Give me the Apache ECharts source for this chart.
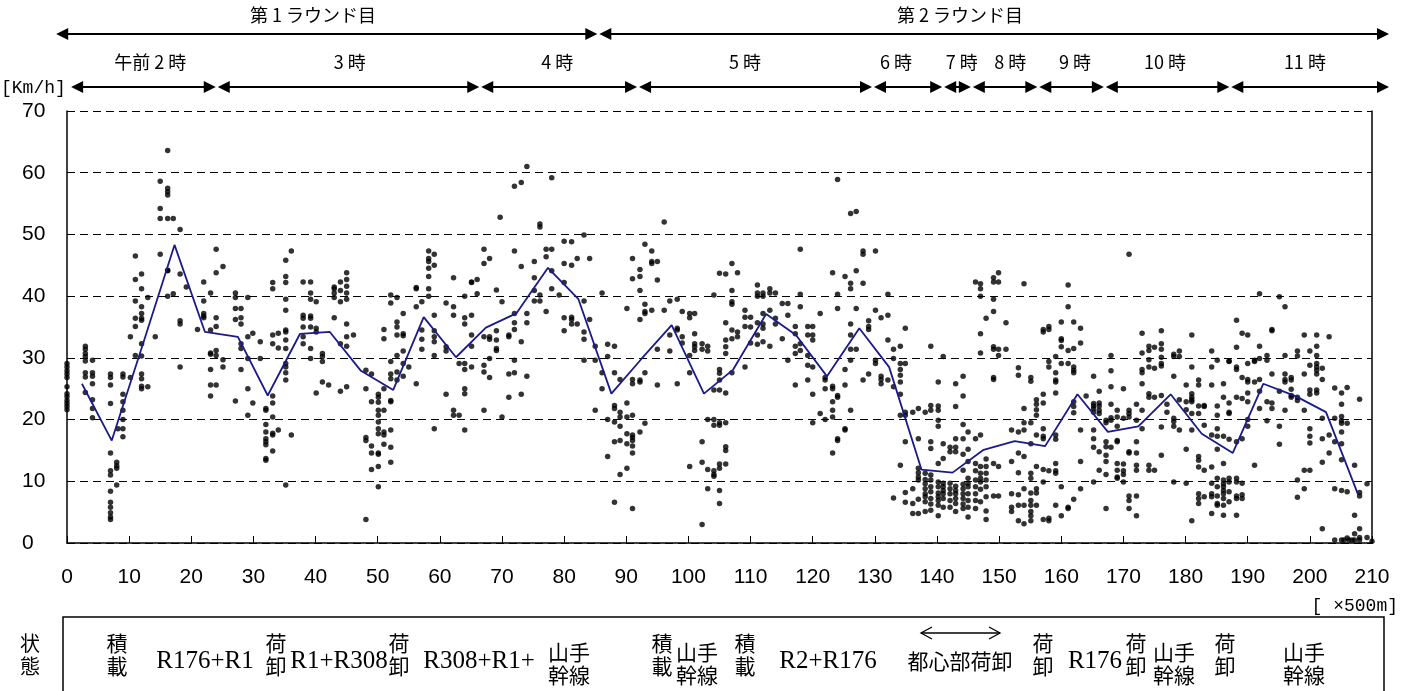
<!DOCTYPE html>
<html><head><meta charset="utf-8">
<script src="https://cdn.jsdelivr.net/npm/echarts@6/dist/echarts.min.js"></script>
<style>html,body{margin:0;padding:0;background:#fff}#c{width:1407px;height:691px}</style>
</head><body><div id="c"></div>
<script>
// x positions (×500m) of the speed sample columns, and the speeds (km/h) in each column
const speedX = [0,2.95,4.1,7,8,8.2,9,10.2,11,12,13,14.2,15,16.2,17.1,18.2,19.2,21,22,23.1,24,25.1,27.1,28,29.1,29.9,31.1,32,33.1,34,
35.2,36.1,38,39.2,40.1,41.1,42.1,43,44,45,46.1,48.1,49,50.1,51,52.1,53.1,54.1,55,56.2,57.1,58.2,59.1,61,62.2,63.1,64,65.1,66,67.1,68,69.1,69.7,
70,71.1,72,73.1,74,75.2,76.1,77.1,78,79.2,80,81.2,82.1,83.2,84.1,85,86.1,87,88.1,89,90.1,91,92.2,93,94.1,95,96.1,97,98.2,99,100.2,101,102.2,103.1,104.1,
105,106,107,107.9,109.1,110,111.1,112,113.1,114,115.1,116,117.2,118,119.2,120,121.2,122,123.2,124,125.2,126.1,127,128.1,129,130.1,131,132.1,133,134.1,134.9,136.1,137,138.1,139,
140.2,141,142.1,143,144.2,145,146.2,147,147.9,149.1,149.9,151.1,152,153.1,154,155.1,156,157.1,158,159.1,160,161.1,162,163.1,164,165.2,166.1,167.2,168,169,170,170.9,172.1,173,174.1,
175,176.1,177,178.1,179,180.1,181,182.1,183,184.2,185.1,186.1,187,188.2,189.1,190,191.1,191.9,193.1,193.9,195.1,196,197,198,199.1,200,201.1,202,203.1,204,205.1,205.5,206,206.3,206.8,207.2,208,209.2,210];
const speedY = [
[29.1,28.5,27.9,27.4,26.8,25.3,24.2,23.7,23.1,22.6,22.1,21.6],[31.9,31.4,30.7,30.2,29.5,27.6,26.9,24.4],[29.6,27.6,27.0,25.8,23.2,21.8,20.3],
[27.4,26.8,25.6,22.6,14.6,11.7,11.0,8.4,6.6,5.8,4.9,4.2,3.8],[13.1,12.5,12.1,9.4],[18.5],[27.4,26.9,24.1,22.9,21.5,20.0,18.5,17.2],[33.4,26.8],
[46.5,42.7,39.2,36.4,35.1,30.4],[43.6,41.2,38.3,37.2,36.4,36.1,32.3,30.3,27.4,26.6,25.4,25.0],[39.8,25.3],[33.4],[58.6,54.2,52.6,46.8],
[63.6,57.5,56.9,56.4,52.6,44.2,44.1,40.0],[52.6,40.4],[50.8,43.6,36.0,35.5,28.5],[41.5],[34.6],[42.3,39.2,37.2,36.8,36.5],
[40.5,34.5,30.8,30.6,28.1,25.6,23.8],[47.6,43.8,36.5,35.1,31.2,30.4,25.6],[44.8,29.7,28.5],[40.5,39.8,38.0,36.2,23.0],[38.0,36.5,35.5,32.3,31.5,28.1],
[39.8,33.4,29.9,25.0,20.7],[34.0,22.7],[32.6,29.9],[21.8,21.5,19.2,18.0,16.9,16.4,15.9,13.7,13.4],[42.2,41.2,33.7,32.3,23.8,22.7,20.4,17.8,17.5,14.9],[34.0,31.6,18.3],
[45.8,43.2,42.2,39.5,37.7,34.5,34.2,32.9,31.5,29.1,28.5,27.6,26.4,9.4],[47.3,17.5],[42.3,36.9,36.4,35.0,33.4,32.3],[42.3,40.5,39.5,36.8,36.4,35.0,31.5,29.9],
[39.1,34.8,34.2,24.3],[30.7,30.2,29.4,26.1],[25.6],[41.5,41.2,40.5,39.8,36.5],[42.3,40.9,39.1,32.3,24.6],[43.8,42.7,41.6,40.5,39.5,35.5,33.4,31.9,25.3],[33.7],
[28.0,25.0,17.1,16.6,3.8],[27.4,22.9,15.7,14.6,11.9],[24.1,23.6,22.8,21.5,20.7,19.6,18.5,17.7,14.6,14.4,12.4,9.1],[34.6,33.1,25.0,21.5,18.0,17.5,16.0],
[40.2,38.9,29.4,27.4,26.6,23.1,22.9,18.3,15.5,13.1],[39.8,35.8,35.0,33.7,30.4,27.7,26.4],[37.2,33.9,33.6,31.1,29.1,27.0],[28.5],[41.4,41.2,38.3,25.8],
[39.1,34.5,33.0,31.4],[47.3,46.1,45.6,44.5,43.2,41.2,40.0],[46.8,45.0,36.9,34.4,33.4,32.6,30.4,18.5],[38.9,31.8,31.1,24.1],[43.0,38.3,36.9,21.5,20.7],[29.1,20.7],
[40.0,36.5,35.5,29.1,28.1,25.0,24.2,18.3],[42.3,42.2,36.9,33.7,31.9,28.5],[42.7,40.4],[47.6,45.3,33.4,28.8,27.7,21.5],[46.1,33.4,33.0,29.9,26.8],[41.0,34.4,32.9,31.5,31.2],[52.8],
[39.1,20.4],[33.7,33.4,27.4,23.6],[57.8,47.3,37.2,35.7,34.6,29.6,27.6],[58.4,44.8,32.6,24.1],[61.0,37.2,35.7,27.0],[45.6,43.0,40.9,39.2],[51.7,51.2,40.2,39.2],
[47.6,46.4,37.5],[59.2,47.6,44.1,41.2],[40.2],[48.9,45.3,42.2,36.5,34.4],[48.8,45.0,36.6,36.2,35.5],[46.1,35.5],[49.9,39.2,34.2,33.0,29.6],[46.1,36.2],
[31.9,29.6,21.5],[40.5,27.6,25.0],[32.2,30.2,20.0,14.0],[31.9,27.6,22.3,21.8,19.6,16.4,6.6],[26.5,21.2,20.4,18.9,16.6,11.1],[38.0,22.7,20.4,17.7,16.1,12.1],
[46.1,42.8,26.5,25.8,20.7,17.5,17.1,16.6,15.7,14.6,5.6],[44.3,43.2,40.9,36.2,26.4,26.1,18.0],[48.4,38.7,37.5,37.2,27.6,19.4],[47.3,45.6,45.3,37.7],
[45.6,42.6,31.4,25.6],[52.0,37.7],[39.2,33.7,31.1],[39.5,34.8,34.5,25.8],[37.5,33.4,32.4],[37.2,36.5,30.4,27.6,12.4],[37.2,33.9,32.3,31.8,31.2],
[32.3,31.4,16.4,13.1,3.0],[31.9,31.1,20.0,11.9,8.8],[40.2,24.8,20.0,19.1,11.7,11.1,10.8],
[43.7,28.1,27.5,26.4,24.8,19.5,19.1,12.8,12.1,8.5,6.4],[43.6,35.7,32.9,31.8,30.7,24.3,19.5,15.6,15.0,12.8],[45.3,40.9,39.1,38.7,34.5,33.1,27.6],[43.8,34.2,33.4],
[37.7,36.6,35.1,28.5],[36.6,35.0,32.4],[41.8,40.5,40.0,35.7,33.7,32.2],[40.5,40.0,37.2,35.5,34.8,32.6],[41.2,40.5,37.7,31.9],[40.5,36.4,35.5],[38.8,33.1],
[38.8,36.9,29.6],[35.1,33.9,31.9,30.7,25.6],[47.6,40.3,38.3,32.3,31.2],[35.1,33.7,30.4,28.8,26.4],[35.1,33.7,32.9,28.5,24.1,19.5],[37.2,21.0],[26.8,26.4,25.0,20.0],
[43.8,25.4,25.0,22.9,21.5,20.4,14.6],[58.9,40.3,38.0,23.9,23.6,16.9,16.6],[43.2,28.1,25.6,18.5,18.3],[53.4,42.1,41.2,35.5,33.7,31.4,29.6,21.5],[53.7,44.1,38.0,31.4],
[47.3,46.8,42.1,26.4],[36.0,35.1,34.6,27.4],[47.3,37.7,29.6,29.1],[36.5,27.0,26.5,25.8],[40.3,36.9,32.9,26.4],[31.4,29.9,25.3,7.3],
[31.9,29.1,28.1,27.2,26.1,24.1,20.7,12.6],[34.8,29.1,21.2,20.7,16.4,8.2,6.6],[21.2,8.8,6.4,4.8],[21.8,16.9,12.1,11.4,10.7,10.2,7.1,4.8],
[21.2,11.3,10.3,9.6,8.8,8.0,7.5,6.7,5.1],[31.9,22.3,21.5,16.4,15.3,11.0,10.2,9.1,8.3,7.2,6.3,5.3],
[26.1,22.2,21.5,19.9,18.9,12.9,9.9,9.1,8.1,7.5,6.9,6.1,4.4],[30.2,16.1,13.7,9.7,9.1,8.5,8.0,7.2,5.8],[15.5,14.8,9.7,8.8,8.0,6.9,5.8],
[25.8,22.1,16.9,15.5,14.8,9.2,8.5,8.0,7.2,6.4,5.1],[27.0,23.8,19.2,16.9,14.4,11.8,9.5,8.8,8.0,7.2,6.3,5.6],[18.0,15.2,13.2,10.5,9.7,9.1,8.0,6.9,5.8,4.2],
[42.3,16.9,12.9,11.7,10.2,9.1,8.0,6.9,5.6],[42.0,41.2,40.0,33.9,30.8,17.5,12.4,11.3,10.5,9.9,8.7,6.7],[36.4,13.6,12.4,11.3,10.2,9.1,7.5,5.2,3.8],
[43.0,42.3,39.5,37.5,31.8,31.4,26.8,26.5,12.9,7.6],[43.8,42.3,31.4,30.4,12.4,7.6],[35.7,31.4],[18.3,13.2,8.0,5.8,5.1],[28.4,27.2,18.0,14.6,11.4,7.8,6.1,3.6],
[42.0,21.8,19.5,18.3,14.0,8.8,6.1,3.1],[26.8,26.2,19.5,16.1,11.3,10.5,8.1,6.9,6.1,5.1,4.4,3.6],[23.2,22.5,21.6,20.7,17.5,12.4,8.8,8.1,6.1],
[34.6,34.2,24.1,22.7,18.5,17.3,16.9,11.9,9.9,3.8],[35.1,34.6,29.4,28.5,11.7,4.0,3.6],[30.2,27.6,26.4,26.1,24.3,17.5,16.8,12.9,11.7,11.3,6.1],
[35.8,33.1,32.8,31.8,29.1,9.1,4.4],[41.8,38.3,31.2,29.1,5.8,5.6],[35.8,31.5,28.5,28.0,27.6,22.9,22.1,21.1,7.1],[34.8,32.4,18.3,13.2,8.8],[23.8],
[27.0,22.6,22.2,21.8,21.2,18.3,16.9,15.5,9.9],[24.6,22.7,22.2,21.5,21.0,14.8,11.8],[19.9,19.5,16.4,15.6,14.2,13.2,11.1,5.6],[30.4,27.9,25.3,22.5,20.3,19.9,15.5],
[21.5,20.4,18.9,16.6,16.4,12.9,11.8,10.7,10.5],[25.0,20.2,12.8,11.7,11.1,9.9],[46.8,21.5,21.0,20.4,14.8,14.6,7.6,6.9,5.6],[22.5,19.9,16.4,14.6,12.6,11.8,7.6,4.4],
[34.0,30.8,28.1,27.6,25.8,21.5,18.5],[31.9,31.2,29.7,28.5,24.2,23.6,12.6,11.8],
[31.7,28.3,23.6,11.8],[34.4,32.3,31.4,30.1,29.1,28.7,23.9,18.8,14.2],[22.5,21.2],[30.6,30.2,27.0,20.2,19.7,18.9,9.9],[31.1,30.2,23.2,18.3],[25.6,22.9,21.6,15.2,9.7],
[33.7,28.5,24.2,23.6,23.2,22.9,21.0,18.3,3.6],[26.4,25.6,22.2,21.0,14.0,13.4,12.3,8.0,7.2,6.4],[22.3,22.1,19.1,11.8,7.5],[31.1,28.5,25.6,17.5,12.3,9.7,8.0,7.5,4.8],
[29.6,22.2,20.7,18.5,17.3,15.2,10.5,9.1,7.6,6.4,6.1],[25.8,23.6,17.3,12.9,10.2,9.6,9.1,8.5,8.0,7.2,6.1,4.5],[29.5,29.4,22.7,21.2,21.0,16.8,10.5,9.9,8.3,6.7],
[36.1,31.7,28.5,28.1,23.6,16.4,10.5,9.9,7.6,7.2,4.5],[34.0,26.8,23.4,16.9,9.7,7.8,7.2],[33.7,29.1,26.5,26.1,24.3,22.9,20.0,18.9],[29.6,29.4,26.1,12.6],
[40.4,31.9,29.9,26.5,24.6,21.8],[30.4,29.6,22.9,19.8],[34.6,34.4,27.4,22.7,21.8],[39.9,24.6,18.9,16.0],[38.3,30.4,27.4,26.5,26.1,21.5],[26.8,26.4,24.9,23.9,23.6],
[31.1,30.3,23.6,23.1,10.2,7.4],[33.7,27.4,21.5,11.8,8.8],[31.1,28.8,24.8,24.1,18.5,17.3,16.2,11.8],[33.7,31.9,30.4,29.1,28.5,28.0,27.4,24.8,24.3],
[28.3,26.5,20.2,16.9,13.1,2.3],[33.4,17.5,14.6],[25.1,20.2,16.4,8.8,0.5],[24.3,22.5,20.5,19.8,19.4,18.0,16.1,13.5,8.5,0.5],[0.5],[25.2,19.4,8.3,0.8],[0.5],[0.5],
[12.6,4.5,1.5,0.5],[23.3,8.2,7.6,2.3,0.9,0.5],[9.6,0.9],[0.3]
];
// 5-section mean speed line
const meanX = [2.4,7.2,12.3,17.3,22.2,27.5,32.3,37.5,42.3,47.3,52.5,57.4,62.6,67.4,72.3,77.4,82.3,87.6,92.5,97.3,102.5,107.2,112.5,117.3,122.3,127.5,132.3,137.5,142.5,147.5,152.5,157.4,162.6,167.5,172.4,177.6,182.6,187.6,192.5,197.7,202.6,207.7];
const meanY = [25.8,16.6,32.5,48.3,34.2,33.4,23.9,33.9,34.2,27.9,24.8,36.6,30.1,34.9,37.2,44.6,39.5,24.2,29.9,35.3,24.2,28.1,37.1,33.7,27.0,34.8,28.5,11.9,11.4,15.1,16.5,15.7,24.1,18.0,18.9,24.1,17.7,14.6,25.8,23.8,21.2,8.0];
// annotation rows (in x-axis units)
const roundEdges = [-1.9, 85.5, 212.9];
const roundLabels = ['第 1 ラウンド目', '第 2 ラウンド目'];
const roundLabelX = [39.6, 143.7];
const hourEdges = [0.5, 24.1, 66.5, 91.9, 129.7, 141.0, 145.6, 156.3, 167.0, 187.2, 212.9];
const hourLabels = ['午前 2 時','3 時','4 時','5 時','6 時','7 時','8 時','9 時','10 時','11 時'];
const hourLabelX = [13.4, 45.5, 78.9, 109.1, 133.4, 144.0, 151.8, 162.2, 176.7, 199.2];
// state row
const stateItems = [
 {t:'積\n載', x:117, k:'v'}, {t:'R176+R1', x:205, k:'r'}, {t:'荷\n卸', x:276, k:'v'}, {t:'R1+R308', x:339, k:'r'},
 {t:'荷\n卸', x:399, k:'v'}, {t:'R308+R1+', x:479, k:'r'}, {t:'山手\n幹線', x:569, k:'w'}, {t:'積\n載', x:662, k:'v'},
 {t:'山手\n幹線', x:697, k:'w'}, {t:'積\n載', x:745, k:'v'}, {t:'R2+R176', x:828, k:'r'}, {t:'都心部荷卸', x:960, k:'h'},
 {t:'荷\n卸', x:1043, k:'v'}, {t:'R176', x:1095, k:'r'}, {t:'荷\n卸', x:1136, k:'v'}, {t:'山手\n幹線', x:1174, k:'w'},
 {t:'荷\n卸', x:1225, k:'v'}, {t:'山手\n幹線', x:1304, k:'w'}
];

const chart = echarts.init(document.getElementById('c'));
const scatterData = [];
speedX.forEach((x, i) => speedY[i].forEach(y => scatterData.push([x, y])));
const lineData = meanX.map((x, i) => [x, meanY[i]]);
const narrow = '"Liberation Sans Narrow", "Arial Narrow", "Liberation Sans"';
const lab = {fontSize:21, color:'#000', fontFamily:narrow};
chart.setOption({
  animation:false,
  grid:{left:67, right:35, top:111, bottom:148},
  xAxis:{type:'value', min:0, max:210, interval:10,
    axisLine:{lineStyle:{color:'#000', width:1.5}},
    axisTick:{inside:true, length:7, lineStyle:{color:'#000'}},
    axisLabel:Object.assign({margin:24}, lab),
    splitLine:{show:false}},
  yAxis:[{type:'value', min:0, max:70, interval:10,
    axisLine:{show:true, lineStyle:{color:'#000', width:1.5}},
    axisTick:{show:true, inside:true, length:5, lineStyle:{color:'#000'}},
    axisLabel:Object.assign({margin:45, align:'left'}, lab),
    splitLine:{show:true, lineStyle:{color:'#000', type:[8,5], width:1}}},
   {type:'value', min:0, max:70, position:'right',
    axisLine:{show:true, lineStyle:{color:'#000', width:1.5}},
    axisTick:{show:false}, axisLabel:{show:false}, splitLine:{show:false}}],
  series:[
    {type:'scatter', data:scatterData, symbol:'circle', symbolSize:5.5, itemStyle:{color:'#000'}, z:2, silent:true},
    {type:'line', data:lineData, symbol:'none', lineStyle:{color:'#1a1a8c', width:1.8}, z:3, silent:true}
  ]
});

const px = v => chart.convertToPixel({xAxisIndex:0}, v);
const g = [];
const cjk = '"Noto Sans CJK JP", sans-serif';
function text(t, x, y, font, align) {
  g.push({type:'text', x:x, y:y, silent:true, style:{text:t, font:font, fill:'#000', textAlign:align||'center', textVerticalAlign:'middle'}});
}
function arrowRow(edges, y) {
  const L = 12, H = 6;
  for (let i = 0; i < edges.length - 1; i++) {
    const a = px(edges[i]) + 1, b = px(edges[i+1]) - 1;
    g.push({type:'line', silent:true, shape:{x1:a+L-2, y1:y, x2:b-L+2, y2:y}, style:{stroke:'#000', lineWidth:2}});
    g.push({type:'polygon', silent:true, shape:{points:[[a,y],[a+L,y-H],[a+L,y+H]]}, style:{fill:'#000'}});
    g.push({type:'polygon', silent:true, shape:{points:[[b,y],[b-L,y-H],[b-L,y+H]]}, style:{fill:'#000'}});
  }
}
arrowRow(roundEdges, 34);
arrowRow(hourEdges, 87);
roundLabels.forEach((t, i) => text(t, px(roundLabelX[i]), 15, '18px ' + cjk));
hourLabels.forEach((t, i) => text(t, px(hourLabelX[i]), 62, '18px ' + cjk));
text('[Km/h]', 1, 88, '18px "Liberation Mono"', 'left');
text('[ ×500m]', 1398, 606, '18px "Liberation Mono"', 'right');
// state box
g.push({type:'rect', silent:true, shape:{x:63, y:617, width:1321, height:90}, style:{fill:'none', stroke:'#000', lineWidth:1.5}});
text('状', 30, 643, '20px ' + cjk); text('態', 30, 666, '20px ' + cjk);
stateItems.forEach(it => {
  if (it.k === 'v') { const p = it.t.split('\n'); text(p[0], it.x, 643, '21px ' + cjk); text(p[1], it.x, 666, '21px ' + cjk); }
  else if (it.k === 'w') { const p = it.t.split('\n'); text(p[0], it.x, 652, '21px ' + cjk); text(p[1], it.x, 675, '21px ' + cjk); }
  else if (it.k === 'r') text(it.t, it.x, 661, '25px "Liberation Serif"');
  else text(it.t, it.x, 661, '21px ' + cjk);
});
// thin double arrow over 都心部荷卸
g.push({type:'line', silent:true, shape:{x1:921, y1:633, x2:1000, y2:633}, style:{stroke:'#000', lineWidth:1.3}});
g.push({type:'polyline', silent:true, shape:{points:[[932,627],[921,633],[932,639]]}, style:{stroke:'#000', lineWidth:1.3, fill:'none'}});
g.push({type:'polyline', silent:true, shape:{points:[[989,627],[1000,633],[989,639]]}, style:{stroke:'#000', lineWidth:1.3, fill:'none'}});
chart.setOption({graphic:{elements:g}});
</script></body></html>
